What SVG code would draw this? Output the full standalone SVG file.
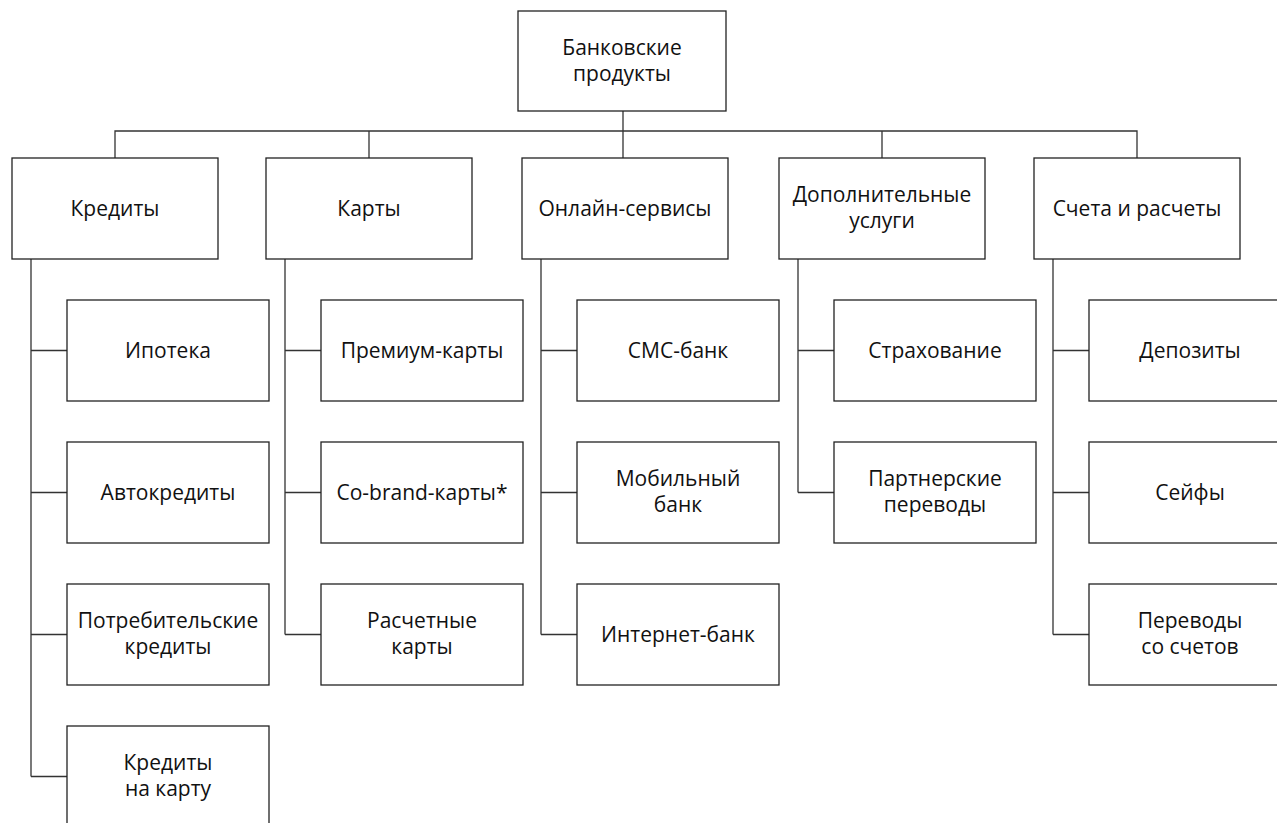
<svg xmlns="http://www.w3.org/2000/svg" width="1277" height="823" viewBox="0 0 1277 823">
<style>
rect{fill:#fff;stroke:#222;stroke-width:1.3}
.c path{fill:none;stroke:#333;stroke-width:1.3}
text{font-family:"Open Sans","Liberation Sans",sans-serif;font-size:21px;fill:#111;text-anchor:middle}
</style>
<rect x="0" y="0" width="1277" height="823" style="stroke:none"/>
<g class="c" id="connectors">
<path d="M623 111V159M115 158V131H1137V158M369 131V158M882 131V158"/>
<path d="M31 259V776.5M31 350.5H67M31 492.5H67M31 634.5H67M31 776.5H67"/>
<path d="M285 259V634.5M285 350.5H321M285 492.5H321M285 634.5H321"/>
<path d="M541 259V634.5M541 350.5H577M541 492.5H577M541 634.5H577"/>
<path d="M798 259V492.5M798 350.5H834M798 492.5H834"/>
<path d="M1053 259V634.5M1053 350.5H1089M1053 492.5H1089M1053 634.5H1089"/>
</g>
<g id="root"><rect x="518" y="11" width="208" height="100"/><text x="622" y="55">Банковские</text><text x="622" y="81">продукты</text></g>
<g id="credits"><rect x="12" y="158" width="206" height="101"/><text x="115" y="216">Кредиты</text></g>
<g id="cards"><rect x="266" y="158" width="206" height="101"/><text x="369" y="216">Карты</text></g>
<g id="online"><rect x="522" y="158" width="206" height="101"/><text x="625" y="216">Онлайн-сервисы</text></g>
<g id="extra"><rect x="779" y="158" width="206" height="101"/><text x="882" y="202">Дополнительные</text><text x="882" y="228">услуги</text></g>
<g id="accounts"><rect x="1034" y="158" width="206" height="101"/><text x="1137" y="216">Счета и расчеты</text></g>

<g id="mortgage"><rect x="67" y="300" width="202" height="101"/><text x="168" y="358">Ипотека</text></g>
<g id="auto"><rect x="67" y="442" width="202" height="101"/><text x="168" y="500">Автокредиты</text></g>
<g id="consumer"><rect x="67" y="584" width="202" height="101"/><text x="168" y="628">Потребительские</text><text x="168" y="654">кредиты</text></g>
<g id="cardcredit"><rect x="67" y="726" width="202" height="101"/><text x="168" y="770">Кредиты</text><text x="168" y="796">на карту</text></g>

<g id="premium"><rect x="321" y="300" width="202" height="101"/><text x="422" y="358">Премиум-карты</text></g>
<g id="cobrand"><rect x="321" y="442" width="202" height="101"/><text x="422" y="500">Co-brand-карты*</text></g>
<g id="settlement"><rect x="321" y="584" width="202" height="101"/><text x="422" y="628">Расчетные</text><text x="422" y="654">карты</text></g>

<g id="sms"><rect x="577" y="300" width="202" height="101"/><text x="678" y="358">СМС-банк</text></g>
<g id="mobile"><rect x="577" y="442" width="202" height="101"/><text x="678" y="486">Мобильный</text><text x="678" y="512">банк</text></g>
<g id="internet"><rect x="577" y="584" width="202" height="101"/><text x="678" y="642">Интернет-банк</text></g>

<g id="insurance"><rect x="834" y="300" width="202" height="101"/><text x="935" y="358">Страхование</text></g>
<g id="partner"><rect x="834" y="442" width="202" height="101"/><text x="935" y="486">Партнерские</text><text x="935" y="512">переводы</text></g>

<g id="deposits"><rect x="1089" y="300" width="202" height="101"/><text x="1190" y="358">Депозиты</text></g>
<g id="safes"><rect x="1089" y="442" width="202" height="101"/><text x="1190" y="500">Сейфы</text></g>
<g id="transfers"><rect x="1089" y="584" width="202" height="101"/><text x="1190" y="628">Переводы</text><text x="1190" y="654">со счетов</text></g>
</svg>
